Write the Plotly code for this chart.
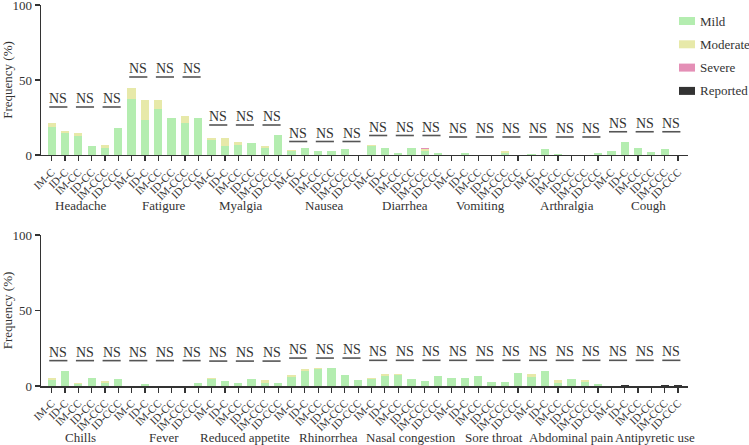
import plotly.graph_objects as go

groups_top = ["Headache", "Fatigure", "Myalgia", "Nausea", "Diarrhea", "Vomiting", "Arthralgia", "Cough"]
groups_bottom = ["Chills", "Fever", "Reduced appetite", "Rhinorrhea", "Nasal congestion",
                 "Sore throat", "Abdominal pain", "Antipyretic use"]
arms = ["IM-C", "ID-C", "IM-CC", "ID-CC", "IM-CCC", "ID-CCC"]

# frequency (%) per bar, 6 arms per symptom
mild_top = [19.0, 15.0, 13.0, 6.0, 4.7, 18.0,
            37.6, 23.1, 30.9, 24.7, 21.6, 24.9,
            10.0, 6.2, 6.9, 8.0, 4.9, 13.3,
            2.9, 4.7, 2.9, 2.9, 4.0, 0.0,
            6.0, 4.4, 1.1, 4.4, 2.7, 1.6,
            0.0, 1.1, 0.0, 0.0, 1.3, 0.0,
            0.9, 4.0, 0.7, 0.0, 0.0, 1.1,
            2.7, 8.9, 4.4, 2.0, 4.0, 0.0]
moderate_top = [2.6, 1.3, 1.8, 0.0, 2.0, 0.0,
                7.1, 13.6, 5.8, 0.0, 4.4, 0.0,
                1.6, 4.9, 1.5, 0.0, 1.1, 0.0,
                0.4, 0.0, 0.0, 0.0, 0.0, 0.0,
                0.9, 0.0, 0.0, 0.0, 1.3, 0.0,
                0.0, 0.0, 0.0, 0.0, 1.3, 0.0,
                0.0, 0.0, 0.0, 0.0, 0.0, 0.0,
                0.0, 0.0, 0.0, 0.0, 0.0, 0.0]
severe_top = [0.0, 0.0, 0.0, 0.0, 0.0, 0.0,
              0.0, 0.0, 0.0, 0.0, 0.0, 0.0,
              0.0, 0.0, 0.0, 0.0, 0.0, 0.0,
              0.0, 0.0, 0.0, 0.0, 0.0, 0.0,
              0.0, 0.0, 0.0, 0.0, 0.8, 0.0,
              0.0, 0.0, 0.0, 0.0, 0.0, 0.0,
              0.0, 0.0, 0.0, 0.0, 0.0, 0.0,
              0.0, 0.0, 0.0, 0.0, 0.0, 0.0]
reported_top = [0.0] * 48

mild_bottom = [4.0, 9.7, 1.3, 5.0, 1.9, 4.4,
               0.0, 1.1, 0.0, 0.0, 0.0, 2.0,
               4.4, 3.1, 2.2, 4.9, 2.0, 2.0,
               6.0, 9.9, 11.0, 11.7, 7.1, 4.2,
               4.4, 6.6, 7.1, 4.9, 3.5, 6.6,
               5.5, 5.3, 6.6, 2.8, 2.6, 8.8,
               6.0, 9.7, 2.2, 4.4, 2.6, 1.5,
               0.0, 0.0, 0.0, 0.0, 0.0, 0.0]
moderate_bottom = [1.0, 0.0, 0.9, 0.0, 1.2, 0.0,
                   0.0, 0.0, 0.0, 0.0, 0.0, 0.0,
                   0.6, 0.0, 0.0, 0.0, 1.8, 0.0,
                   1.1, 1.6, 0.7, 0.0, 0.0, 0.0,
                   1.1, 1.6, 0.6, 0.0, 0.0, 0.0,
                   0.0, 0.0, 0.0, 0.0, 0.0, 0.0,
                   2.2, 0.0, 2.0, 0.0, 1.1, 0.0,
                   0.0, 0.0, 0.0, 0.0, 0.0, 0.0]
severe_bottom = [0.0] * 48
reported_bottom = [0.0, 0.0, 0.0, 0.0, 0.0, 0.0,
                   0.0, 0.0, 0.0, 0.0, 0.0, 0.0,
                   0.0, 0.0, 0.0, 0.0, 0.0, 0.0,
                   0.0, 0.0, 0.0, 0.0, 0.0, 0.0,
                   0.0, 0.0, 0.0, 0.0, 0.0, 0.0,
                   0.0, 0.0, 0.0, 0.0, 0.0, 0.0,
                   0.0, 0.0, 0.0, 0.0, 0.0, 0.0,
                   0.0, 0.7, 0.0, 0.0, 0.7, 0.4]

# height (%) of the NS bracket for each symptom
ns_top = [32, 52, 20, 9, 13, 12, 12, 15.5]
ns_bottom = [16.8, 16.8, 16.5, 18.5, 17, 17, 17, 17]

# where the symptom names sit along the bar axis (as in the source figure)
label_pos_top = [2.2, 8.4, 14.2, 20.4, 26.5, 32.2, 38.7, 44.8]
label_pos_bottom = [2.2, 8.4, 14.5, 20.8, 27.0, 33.2, 39.0, 45.3]

severities = ["Mild", "Moderate", "Severe", "Reported"]
colors = {"Mild": "#b4edb0", "Moderate": "#e7e9a9", "Severe": "#e48fb6", "Reported": "#333333"}

SERIF = "Liberation Serif"
INK = "#333333"

x_pos = list(range(48))
tick_text = arms * 8

fig = go.Figure()

panels = [
    ("x", "y", [mild_top, moderate_top, severe_top, reported_top]),
    ("x2", "y2", [mild_bottom, moderate_bottom, severe_bottom, reported_bottom]),
]
for xa, ya, series in panels:
    for name, vals in zip(severities, series):
        fig.add_trace(go.Bar(
            x=x_pos, y=vals, name=name, xaxis=xa, yaxis=ya,
            marker=dict(color=colors[name], line=dict(width=0)),
            width=0.62, showlegend=False,
        ))

fig.update_layout(barmode="stack")

axis_common = dict(
    showline=True, linecolor=INK, linewidth=1.5, ticks="outside", automargin=False,
    tickcolor=INK, tickwidth=1.2, ticklen=5, showgrid=False, zeroline=False,
    ticklabeloverflow="allow", tickfont=dict(family=SERIF, size=13, color=INK),
)
x_common = dict(axis_common, range=[-0.8, 47.75], tickmode="array", tickvals=x_pos,
                ticktext=tick_text, tickangle=-45)
x_common["tickfont"] = dict(family=SERIF, size=11, color=INK)
y_common = dict(axis_common, range=[0, 100], tickvals=[0, 50, 100],
                title=dict(text="Frequency (%)", font=dict(family=SERIF, size=13, color=INK), standoff=6))

fig.update_layout(
    width=749, height=445,
    margin=dict(l=41, r=61, t=5, b=59, autoexpand=False),
    paper_bgcolor="white", plot_bgcolor="white",
    xaxis=dict(x_common, anchor="y"),
    yaxis=dict(y_common, domain=[0.6063, 1.0], anchor="x"),
    xaxis2=dict(x_common, anchor="y2"),
    yaxis2=dict(y_common, domain=[0.0, 0.3963], anchor="x2"),
    font=dict(family=SERIF, color=INK),
    hovermode=False,
)

# NS brackets and symptom names
for xa, ya, ns_levels, names, lpos in [("x", "y", ns_top, groups_top, label_pos_top),
                                       ("x2", "y2", ns_bottom, groups_bottom, label_pos_bottom)]:
    for g, (lvl, nm, lx) in enumerate(zip(ns_levels, names, lpos)):
        base = 6 * g
        for p in range(3):
            a, b = base + 2 * p, base + 2 * p + 1
            fig.add_shape(type="line", xref=xa, yref=ya, x0=a - 0.18, x1=b + 0.18, y0=lvl, y1=lvl,
                          line=dict(color="#555555", width=1.6))
            fig.add_annotation(xref=xa, yref=ya, x=(a + b) / 2, y=lvl, text="NS", showarrow=False,
                               yanchor="bottom", yshift=-1,
                               font=dict(family=SERIF, size=14, color=INK))
        fig.add_annotation(xref=xa, yref=ya + " domain", x=lx, y=0, text=nm, showarrow=False,
                           yanchor="middle", yshift=-51, font=dict(family=SERIF, size=13, color=INK))

# legend drawn at top right
W, H = 749 - 41 - 61, 445 - 5 - 59
for i, name in enumerate(severities):
    cy = 21 + i * 23.3
    fig.add_shape(type="rect", xref="paper", yref="paper",
                  x0=(679 - 41) / W, x1=(695 - 41) / W,
                  y0=(386 - cy - 4) / H, y1=(386 - cy + 4) / H,
                  fillcolor=colors[name], line=dict(width=0))
    fig.add_annotation(xref="paper", yref="paper", x=(698 - 41) / W, y=(386 - cy) / H,
                       text=name, showarrow=False, xanchor="left", yanchor="middle",
                       font=dict(family=SERIF, size=13, color=INK))

# page has a default 8px body margin; drop it so the figure sits at the window corner
fig.write_html("out.html", config={"displayModeBar": False, "staticPlot": True},
               post_script="document.body.style.margin='0';document.body.style.overflow='hidden';")
